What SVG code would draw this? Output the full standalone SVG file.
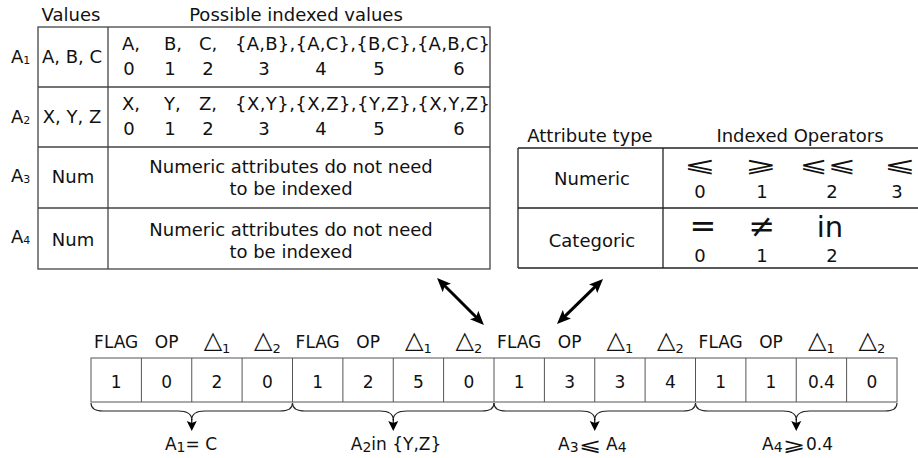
<svg xmlns="http://www.w3.org/2000/svg" width="918" height="458" viewBox="0 0 918 458">
<style>
.t{font-family:"DejaVu Sans","Liberation Sans",sans-serif;font-size:18px;fill:#111}
.b{font-family:"DejaVu Sans","Liberation Sans",sans-serif;font-size:17px;fill:#111}
.m{text-anchor:middle}
.ln{fill:none;stroke:#444;stroke-width:1.3}
.lr{fill:none;stroke:#222;stroke-width:1.3}
.cell{fill:#fff;stroke:#555;stroke-width:1}
.br{fill:none;stroke:#222;stroke-width:1.1}
.op{font-family:"DejaVu Sans","Liberation Sans",sans-serif;font-size:21px;fill:#111;text-anchor:middle}
.tri{font-size:24px}
.sb{font-size:13px}
</style>
<defs>
<marker id="ah" viewBox="0 0 14 12" refX="6" refY="6" markerWidth="14" markerHeight="12" markerUnits="userSpaceOnUse" orient="auto-start-reverse">
<path d="M0,0 L14,6 L0,12 L3,6 z" fill="#000"/>
</marker>
<marker id="sh" viewBox="0 0 10 12" refX="2" refY="6" markerWidth="10" markerHeight="12" markerUnits="userSpaceOnUse" orient="auto">
<path d="M0,1 L10,6 L0,11 L2,6 z" fill="#000"/>
</marker>
</defs>

<g id="values-table">
<text class="t m" x="71" y="21">Values</text>
<text class="t m" x="296" y="21">Possible indexed values</text>
<rect class="ln" x="38" y="27" width="452" height="242"/>
<line class="ln" x1="108" y1="27" x2="108" y2="269"/>
<line class="ln" x1="38" y1="87" x2="490" y2="87"/>
<line class="ln" x1="38" y1="147" x2="490" y2="147"/>
<line class="ln" x1="38" y1="208" x2="490" y2="208"/>
<text class="t" x="11" y="63">A<tspan font-size="11" dy="1">1</tspan></text>
<text class="t" x="11" y="123">A<tspan font-size="11" dy="1">2</tspan></text>
<text class="t" x="11" y="182">A<tspan font-size="11" dy="1">3</tspan></text>
<text class="t" x="11" y="243">A<tspan font-size="11" dy="1">4</tspan></text>
<text class="t m" x="72" y="63">A, B, C</text>
<text class="t m" x="72" y="123">X, Y, Z</text>
<text class="t m" x="73" y="183">Num</text>
<text class="t m" x="73" y="246">Num</text>
<text class="t" x="122" y="50">A,</text>
<text class="t" x="164" y="50">B,</text>
<text class="t" x="199" y="50">C,</text>
<text class="t" x="235" y="50" textLength="255" lengthAdjust="spacing">{A,B},{A,C},{B,C},{A,B,C}</text>
<text class="t m" x="129" y="75">0</text>
<text class="t m" x="170" y="75">1</text>
<text class="t m" x="208" y="75">2</text>
<text class="t m" x="264" y="75">3</text>
<text class="t m" x="321" y="75">4</text>
<text class="t m" x="379" y="75">5</text>
<text class="t m" x="459" y="75">6</text>
<text class="t" x="122" y="110">X,</text>
<text class="t" x="164" y="110">Y,</text>
<text class="t" x="199" y="110">Z,</text>
<text class="t" x="235" y="110" textLength="255" lengthAdjust="spacing">{X,Y},{X,Z},{Y,Z},{X,Y,Z}</text>
<text class="t m" x="129" y="135">0</text>
<text class="t m" x="170" y="135">1</text>
<text class="t m" x="208" y="135">2</text>
<text class="t m" x="264" y="135">3</text>
<text class="t m" x="321" y="135">4</text>
<text class="t m" x="379" y="135">5</text>
<text class="t m" x="459" y="135">6</text>
<text class="t m" x="291" y="173">Numeric attributes do not need</text>
<text class="t m" x="291" y="195">to be indexed</text>
<text class="t m" x="291" y="236">Numeric attributes do not need</text>
<text class="t m" x="291" y="258">to be indexed</text>
</g>

<g id="operators-table">
<text class="t m" x="590" y="142">Attribute type</text>
<text class="t m" x="800" y="142">Indexed Operators</text>
<line class="lr" x1="518" y1="148" x2="918" y2="148"/>
<line class="lr" x1="518" y1="208" x2="918" y2="208"/>
<line class="lr" x1="518" y1="268" x2="918" y2="268"/>
<line class="lr" x1="518" y1="148" x2="518" y2="268"/>
<line class="lr" x1="663" y1="148" x2="663" y2="268"/>
<text class="t m" x="592" y="185">Numeric</text>
<text class="t m" x="592" y="247">Categoric</text>
<text class="op" transform="translate(700,172) scale(1.8,1)">⩽</text>
<text class="op" transform="translate(761,172) scale(1.8,1)">⩾</text>
<text class="op" transform="translate(828,172) scale(1.6,1)">⩽⩽</text>
<text class="op" transform="translate(900,172) scale(1.8,1)">⩽</text>
<text class="t m" x="700" y="198">0</text>
<text class="t m" x="762" y="198">1</text>
<text class="t m" x="832" y="198">2</text>
<text class="t m" x="897" y="198">3</text>
<text class="op" x="703" y="237" style="font-size:32px">=</text>
<text class="op" x="762" y="237" style="font-size:32px">≠</text>
<text class="op" x="830" y="237" style="font-size:29px">in</text>
<text class="t m" x="700" y="262">0</text>
<text class="t m" x="762" y="262">1</text>
<text class="t m" x="832" y="262">2</text>
</g>

<g id="encoding-array">
<g class="b m">
<text x="116.2" y="348">FLAG</text><text x="166.6" y="348">OP</text>
<text x="217" y="348"><tspan class="tri">△</tspan><tspan class="sb" dy="5">1</tspan></text>
<text x="267.3" y="348"><tspan class="tri">△</tspan><tspan class="sb" dy="5">2</tspan></text>
<text x="317.7" y="348">FLAG</text><text x="368.1" y="348">OP</text>
<text x="418.4" y="348"><tspan class="tri">△</tspan><tspan class="sb" dy="5">1</tspan></text>
<text x="468.8" y="348"><tspan class="tri">△</tspan><tspan class="sb" dy="5">2</tspan></text>
<text x="519.2" y="348">FLAG</text><text x="569.6" y="348">OP</text>
<text x="619.9" y="348"><tspan class="tri">△</tspan><tspan class="sb" dy="5">1</tspan></text>
<text x="670.3" y="348"><tspan class="tri">△</tspan><tspan class="sb" dy="5">2</tspan></text>
<text x="720.7" y="348">FLAG</text><text x="771" y="348">OP</text>
<text x="821.4" y="348"><tspan class="tri">△</tspan><tspan class="sb" dy="5">1</tspan></text>
<text x="871.8" y="348"><tspan class="tri">△</tspan><tspan class="sb" dy="5">2</tspan></text>
</g>
<rect class="cell" x="91" y="358" width="806" height="44"/>
<g class="cell">
<line x1="141.4" y1="358" x2="141.4" y2="402"/><line x1="191.75" y1="358" x2="191.75" y2="402"/>
<line x1="242.1" y1="358" x2="242.1" y2="402"/><line x1="292.5" y1="358" x2="292.5" y2="402"/>
<line x1="342.9" y1="358" x2="342.9" y2="402"/><line x1="393.25" y1="358" x2="393.25" y2="402"/>
<line x1="443.6" y1="358" x2="443.6" y2="402"/><line x1="494" y1="358" x2="494" y2="402"/>
<line x1="544.4" y1="358" x2="544.4" y2="402"/><line x1="594.75" y1="358" x2="594.75" y2="402"/>
<line x1="645.1" y1="358" x2="645.1" y2="402"/><line x1="695.5" y1="358" x2="695.5" y2="402"/>
<line x1="745.9" y1="358" x2="745.9" y2="402"/><line x1="796.25" y1="358" x2="796.25" y2="402"/>
<line x1="846.6" y1="358" x2="846.6" y2="402"/>
</g>
<g class="b m">
<text x="116.2" y="388">1</text><text x="166.6" y="388">0</text><text x="217" y="388">2</text><text x="267.3" y="388">0</text>
<text x="317.7" y="388">1</text><text x="368.1" y="388">2</text><text x="418.4" y="388">5</text><text x="468.8" y="388">0</text>
<text x="519.2" y="388">1</text><text x="569.6" y="388">3</text><text x="619.9" y="388">3</text><text x="670.3" y="388">4</text>
<text x="720.7" y="388">1</text><text x="771" y="388">1</text><text x="821.4" y="388">0.4</text><text x="871.8" y="388">0</text>
</g>
</g>

<g id="labels" class="b">
<text class="m" x="191" y="450">A<tspan font-size="14" dy="2">1</tspan><tspan dy="-2">= C</tspan></text>
<text class="m" x="396" y="450">A<tspan font-size="14" dy="2">2</tspan><tspan dy="-2">in {Y,Z}</tspan></text>
<text x="558" y="450">A<tspan font-size="14" dy="2">3</tspan></text>
<text class="op" style="font-size:18px" transform="translate(590,451) scale(1.5,1)">⩽</text>
<text x="606" y="450">A<tspan font-size="14" dy="2">4</tspan></text>
<text x="762" y="450">A<tspan font-size="14" dy="2">4</tspan></text>
<text class="op" style="font-size:18px" transform="translate(794,451) scale(1.5,1)">⩾</text>
<text x="806" y="450">0.4</text>
</g>

<g id="connectors">
<line x1="442.7" y1="283.7" x2="478.3" y2="319.3" stroke="#000" stroke-width="3" marker-start="url(#ah)" marker-end="url(#ah)"/>
<line x1="597.3" y1="284.6" x2="562.7" y2="318.4" stroke="#000" stroke-width="3" marker-start="url(#ah)" marker-end="url(#ah)"/>
<path class="br" d="M91,403 Q91,411 103,411 L178,411 Q191.75,411 191.75,420 Q191.75,411 205,411 L280,411 Q292.5,411 292.5,403"/>
<path class="br" d="M292.5,403 Q292.5,411 305,411 L380,411 Q393.25,411 393.25,420 Q393.25,411 407,411 L482,411 Q494,411 494,403"/>
<path class="br" d="M494,403 Q494,411 506,411 L581,411 Q594.75,411 594.75,420 Q594.75,411 608,411 L683,411 Q695.5,411 695.5,403"/>
<path class="br" d="M695.5,403 Q695.5,411 708,411 L783,411 Q796.25,411 796.25,420 Q796.25,411 810,411 L885,411 Q897,411 897,403"/>
<line x1="191.75" y1="419" x2="191.75" y2="423" stroke="#000" stroke-width="1.2" marker-end="url(#sh)"/>
<line x1="393.25" y1="419" x2="393.25" y2="423" stroke="#000" stroke-width="1.2" marker-end="url(#sh)"/>
<line x1="594.75" y1="419" x2="594.75" y2="423" stroke="#000" stroke-width="1.2" marker-end="url(#sh)"/>
<line x1="796.25" y1="419" x2="796.25" y2="423" stroke="#000" stroke-width="1.2" marker-end="url(#sh)"/>
</g>
</svg>
